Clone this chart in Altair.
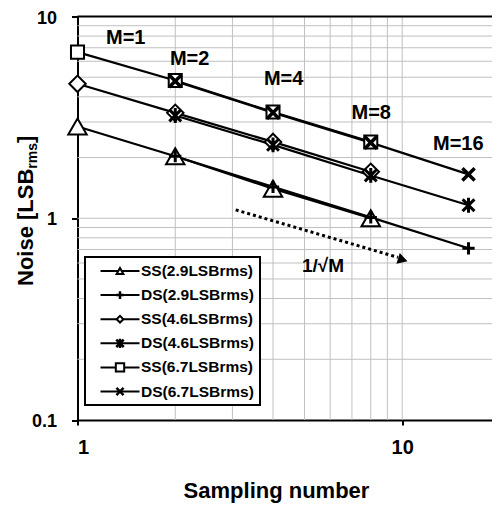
import altair as alt
import pandas as pd

# ---------------- data ----------------
M_SS = [1, 2, 4, 8]
M_DS = [2, 4, 8, 16]
ss_29 = [2.85, 2.03, 1.40, 1.00]
ds_29 = [2.03, 1.43, 1.01, 0.71]
ss_46 = [4.64, 3.33, 2.39, 1.70]
ds_46 = [3.23, 2.31, 1.63, 1.16]
ss_67 = [6.66, 4.82, 3.36, 2.39]
ds_67 = [4.78, 3.34, 2.37, 1.65]
series_names = ["SS(2.9LSBrms)", "DS(2.9LSBrms)", "SS(4.6LSBrms)",
                "DS(4.6LSBrms)", "SS(6.7LSBrms)", "DS(6.7LSBrms)"]

m_labels = ["M=1", "M=2", "M=4", "M=8", "M=16"]
m_label_x = [1.224, 1.926, 3.75, 6.98, 12.44]
m_label_y = [7.27, 5.72, 4.56, 3.12, 2.18]

slope_label = ["1/\u221aM"]
slope_label_x = [4.91]
slope_label_y = [0.54]
arrow_x = [3.07, 9.7]
arrow_y = [1.10, 0.64]
arrow_head_x = [10.04]
arrow_head_y = [0.622]

x_ticks = [1, 10]
y_ticks = [0.1, 1, 10]
x_grid = [2, 3, 4, 5, 6, 7, 8, 9, 10]
y_grid = [0.2, 0.3, 0.4, 0.5, 0.6, 0.7, 0.8, 0.9, 1, 2, 3, 4, 5, 6, 7, 8, 9]

x_domain = [1, 18.9]
y_domain = [0.1, 10]

# ---------------- styles ----------------
FONT = "Liberation Sans"
PLUS = "M-1,0L1,0M0,-1L0,1"
XMARK = "M-1,-1L1,1M-1,1L1,-1"
STAR = "M-1,-1L1,1M-1,1L1,-1M0,-1.25L0,1.25"
styles = [
    dict(shape="triangle-up", size=340, open=True, sw=2, lsize=45),
    dict(shape=PLUS, size=150, open=False, sw=3, lsize=60),
    dict(shape="diamond", size=270, open=True, sw=2, lsize=45),
    dict(shape=STAR, size=140, open=False, sw=3, lsize=55),
    dict(shape="square", size=170, open=True, sw=2, lsize=70),
    dict(shape=XMARK, size=150, open=False, sw=3.5, lsize=50),
]

series_x = [M_SS, M_DS, M_SS, M_DS, M_SS, M_DS]
series_y = [ss_29, ds_29, ss_46, ds_46, ss_67, ds_67]

W, H = 414.5, 403.5

xs = alt.Scale(type="log", domain=x_domain, nice=False)
ys = alt.Scale(type="log", domain=y_domain, nice=False)
X = alt.X("x:Q", scale=xs, axis=alt.Axis(
    values=x_ticks, format="~g", grid=False, title="Sampling number",
    domainColor="black", domainWidth=2, tickColor="black", tickWidth=2, tickSize=5,
    labelFont=FONT, labelFontWeight="bold", labelFontSize=20, labelColor="black",
    labelPadding=12, titleFont=FONT, titleFontWeight="bold", titleFontSize=22,
    titleColor="black", titleX=198.5, titleY=77, titleBaseline="alphabetic",
    titleAlign="center"))
Y = alt.Y("y:Q", scale=ys, axis=alt.Axis(
    values=y_ticks, format="~g", grid=False, title=None,
    domainColor="black", domainWidth=2, tickColor="black", tickWidth=2, tickSize=6,
    labelFont=FONT, labelFontWeight="bold", labelFontSize=18, labelColor="black",
    labelPadding=15, labelOffset=1.5))

layers = []

# grid
gx = pd.DataFrame({"x": x_grid})
gy = pd.DataFrame({"y": y_grid})
layers.append(alt.Chart(gx).mark_rule(color="#c0c0c0", strokeWidth=1).encode(x=X))
layers.append(alt.Chart(gy).mark_rule(color="#c0c0c0", strokeWidth=1).encode(y=Y))

# top border
tb = pd.DataFrame({"x": [x_domain[0]], "x2": [x_domain[1]], "y": [y_domain[1]]})
layers.append(alt.Chart(tb).mark_rule(color="black", strokeWidth=2).encode(
    x=X, x2="x2:Q", y=Y))

# data lines
rows = []
for name, xv, yv in zip(series_names, series_x, series_y):
    for a, b in zip(xv, yv):
        rows.append({"series": name, "x": a, "y": b})
df = pd.DataFrame(rows)
layers.append(alt.Chart(df).mark_line(color="black", strokeWidth=2.2).encode(
    x=X, y=Y, detail="series:N"))

# markers
for name, st in zip(series_names, styles):
    if st["open"]:
        mk = alt.Chart(df).mark_point(shape=st["shape"], size=st["size"], filled=True,
                                      fill="white", stroke="black",
                                      strokeWidth=st["sw"], opacity=1)
    else:
        mk = alt.Chart(df).mark_point(shape=st["shape"], size=st["size"], filled=False,
                                      stroke="black", strokeWidth=st["sw"], opacity=1)
    layers.append(mk.encode(x=X, y=Y).transform_filter(alt.datum.series == name))

# arrow
adf = pd.DataFrame({"x": arrow_x, "y": arrow_y})
layers.append(alt.Chart(adf).mark_line(color="black", strokeWidth=3,
                                        strokeDash=[3, 3]).encode(x=X, y=Y))
ahd = pd.DataFrame({"x": arrow_head_x, "y": arrow_head_y})
layers.append(alt.Chart(ahd).mark_point(shape="triangle-right", angle=17, size=130,
                                         filled=True, color="black", opacity=1).encode(x=X, y=Y))

# annotations
mdf = pd.DataFrame({"x": m_label_x, "y": m_label_y, "t": m_labels})
layers.append(alt.Chart(mdf).mark_text(font=FONT, fontWeight="bold", fontSize=20,
                                        align="left", baseline="alphabetic",
                                        color="black").encode(x=X, y=Y, text="t:N"))
sdf = pd.DataFrame({"x": slope_label_x, "y": slope_label_y, "t": slope_label})
layers.append(alt.Chart(sdf).mark_text(font=FONT, fontWeight="bold", fontSize=19,
                                        align="left", baseline="alphabetic",
                                        color="black").encode(x=X, y=Y, text="t:N"))

# y title with subscript
one = pd.DataFrame({"a": [0]})
ytitle_parts = [("Noise [LSB", 22, -44.8, 269.5), ("rms", 14, -40.5, 152.2), ("]", 22, -44.8, 126.5)]
for txt, fs, px, py in ytitle_parts:
    layers.append(alt.Chart(one).mark_text(text=txt, font=FONT, fontWeight="bold",
                                            fontSize=fs, angle=270, align="left",
                                            baseline="alphabetic", color="black").encode(
        x=alt.value(px), y=alt.value(py)))

# legend
layers.append(alt.Chart(one).mark_rect(fill="white", stroke="black", strokeWidth=2).encode(
    x=alt.value(7.5), x2=alt.value(182.5), y=alt.value(240.5), y2=alt.value(388.5)))
for i, (name, st) in enumerate(zip(series_names, styles)):
    yy = 254.5 + 24.1 * i
    layers.append(alt.Chart(one).mark_rule(color="black", strokeWidth=2).encode(
        x=alt.value(23), x2=alt.value(62), y=alt.value(yy)))
    if st["open"]:
        lm = alt.Chart(one).mark_point(shape=st["shape"], size=st["lsize"], filled=True,
                                       fill="white", stroke="black", strokeWidth=2, opacity=1)
    else:
        lm = alt.Chart(one).mark_point(shape=st["shape"], size=st["lsize"], filled=False,
                                       stroke="black", strokeWidth=2.5, opacity=1)
    layers.append(lm.encode(x=alt.value(42.5), y=alt.value(yy)))
    layers.append(alt.Chart(one).mark_text(text=name, font=FONT, fontWeight="bold",
                                            fontSize=15.5, align="left", baseline="middle",
                                            color="black").encode(
        x=alt.value(63.5), y=alt.value(yy)))

chart = alt.layer(*layers).properties(
    width=W, height=H,
    padding={"left": 69.5, "top": 8.5, "right": 0, "bottom": 84},
    autosize=alt.AutoSizeParams(type="none"),
    background="white",
).configure_view(stroke=None)

chart.save("out.html", embed_options={"renderer": "svg", "actions": False})
